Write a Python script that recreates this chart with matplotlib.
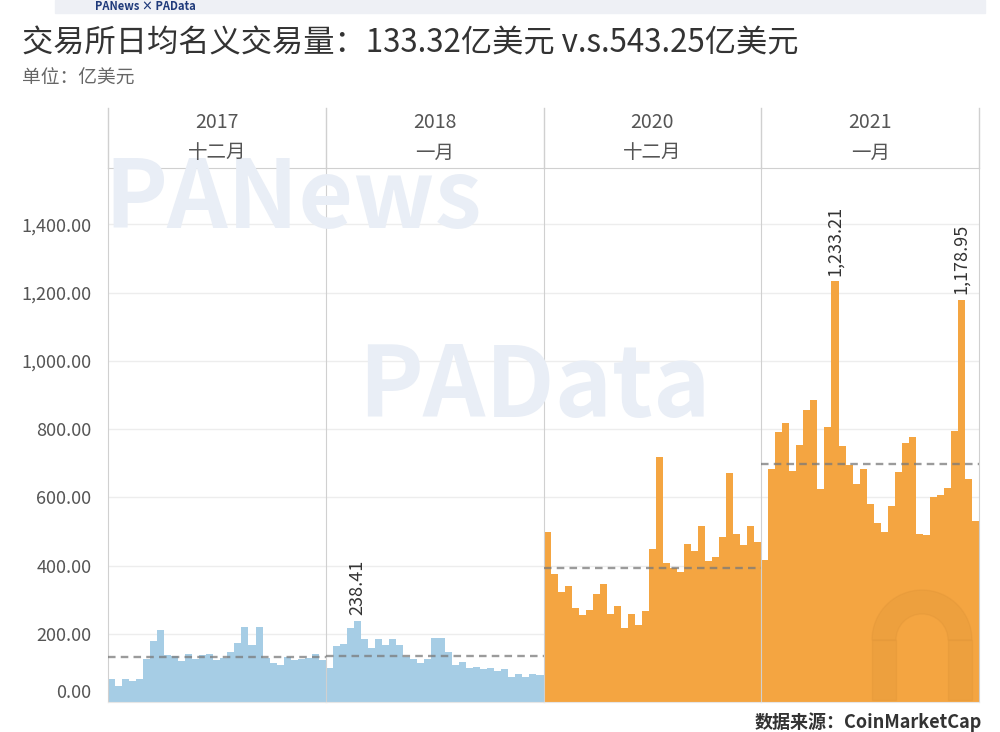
import numpy as np
import matplotlib.pyplot as plt
from matplotlib.patches import Rectangle, Wedge
from matplotlib.lines import Line2D

plt.rcParams['font.family'] = ['Noto Sans CJK SC', 'DejaVu Sans']

# 日均名义交易量（亿美元）
years = ['2017', '2018', '2020', '2021']
months = ['十二月', '一月', '十二月', '一月']

dec_2017 = [66, 47, 66, 62, 66, 125, 179, 211, 137, 135, 121, 142, 127, 138, 142, 124,
            130, 148, 172, 220, 167, 220, 130, 115, 107, 132, 124, 127, 130, 142, 124]
jan_2018 = [101, 164, 169, 216, 238.41, 184, 157, 184, 166, 184, 166, 132, 125, 113, 125, 189,
            189, 148, 108, 117, 99, 102, 97, 99, 91, 98, 74, 82, 73, 83, 78]
dec_2020 = [498, 375, 323, 339, 276, 254, 271, 317, 347, 258, 280, 217, 258, 226, 268, 447,
            719, 408, 393, 381, 462, 444, 516, 413, 426, 484, 670, 493, 459, 516, 470]
jan_2021 = [415, 682, 790, 818, 677, 754, 856, 886, 624, 805, 1233.21, 751, 695, 638, 682, 581,
            525, 498, 574, 674, 759, 777, 491, 489, 601, 606, 628, 795, 1178.95, 655, 530]

series = [dec_2017, jan_2018, dec_2020, jan_2021]
colors = ['#a6cde5', '#a6cde5', '#f4a541', '#f4a541']
labeled = [[], [4], [], [10, 28]]   # 标注数值的柱
yticks = [0, 200, 400, 600, 800, 1000, 1200, 1400]

W, H = 1000, 732
fig = plt.figure(figsize=(10, 7.32), dpi=100)


def fx(px):
    return px / W


def fy(py):
    return 1 - py / H


left, right, top, bottom, head = 108, 979, 168, 702, 108
pw = (right - left) / 4

# 顶部标志条
fig.patches.append(Rectangle((fx(55), fy(13)), fx(930), 13 / H, transform=fig.transFigure,
                             color='#eef0f5', zorder=0))
fig.text(fx(95), fy(6), 'PANews × PAData', fontsize=8, weight='bold', color='#1f3a7a', va='center')

# 标题
fig.text(fx(22), fy(44), '交易所日均名义交易量：133.32亿美元 v.s.543.25亿美元',
         fontsize=22.5, color='#333333', va='center')
fig.text(fx(22), fy(78), '单位：亿美元', fontsize=13.5, color='#666666', va='center')

# 水印（在坐标轴下面）
fig.text(fx(104), fy(200), 'PANews', fontsize=68, weight='bold', color='#e9eef6',
         va='center', zorder=0)
fig.text(fx(358), fy(388), 'PAData', fontsize=70, weight='bold', color='#e9eef6',
         va='center', zorder=0)

axes = []
for i, vals in enumerate(series):
    ax = fig.add_axes([fx(left + i * pw), fy(bottom), pw / W, (bottom - top) / H])
    ax.set_facecolor('none')
    x = np.arange(len(vals))
    ax.bar(x, vals, width=1.0, color=colors[i], linewidth=0, zorder=2)
    ax.axhline(np.mean(vals), color='#7a7a7a', alpha=0.75, lw=1.7, dashes=(3.2, 2.2), zorder=3)
    for j in labeled[i]:
        ax.annotate(f'{vals[j]:,.2f}', (j, vals[j]), xytext=(0, 4), textcoords='offset points',
                    rotation=90, ha='center', va='bottom', fontsize=13, color='#333333')
    ax.set_xlim(-0.5, len(vals) - 0.5)
    ax.set_ylim(0, 1565)
    ax.set_yticks(yticks)
    ax.grid(axis='y', color='#ededed', lw=1, zorder=0)
    ax.set_xticks([])
    for s in ['left', 'right', 'top', 'bottom']:
        ax.spines[s].set_color('#d0d0d0')
    ax.spines['right'].set_visible(i == 3)
    ax.spines['bottom'].set_color('#e6e6e6')
    ax.tick_params(axis='y', length=0, labelsize=13, labelcolor='#555555')
    if i == 0:
        ax.set_yticklabels([f'{v:,.2f}' for v in yticks])
        ax.tick_params(axis='y', pad=12)
        ax.get_yticklabels()[0].set_va('bottom')
    else:
        ax.set_yticklabels([])
    axes.append(ax)

    cx = left + (i + 0.5) * pw
    fig.text(fx(cx), fy(123), years[i], ha='center', va='center', fontsize=14, color='#555555')
    fig.text(fx(cx), fy(153), months[i], ha='center', va='center', fontsize=14, color='#555555')

# 表头分隔线
for k in range(5):
    xx = fx(left + k * pw)
    fig.add_artist(Line2D([xx, xx], [fy(head), fy(top)], color='#d0d0d0', lw=1))

# 右下角标志水印
wm = dict(color='#c98430', alpha=0.15, transform=None)
fig.patches.append(Wedge((922, H - 640), 50, 0, 180, width=24, **wm))
fig.patches.append(Rectangle((872, H - 700), 24, 60, **wm))
fig.patches.append(Rectangle((948, H - 700), 24, 60, **wm))

fig.text(fx(755), fy(722), '数据来源：CoinMarketCap', fontsize=13, weight='bold', color='#333333',
         va='center')

fig.savefig('out.png', dpi=100)
